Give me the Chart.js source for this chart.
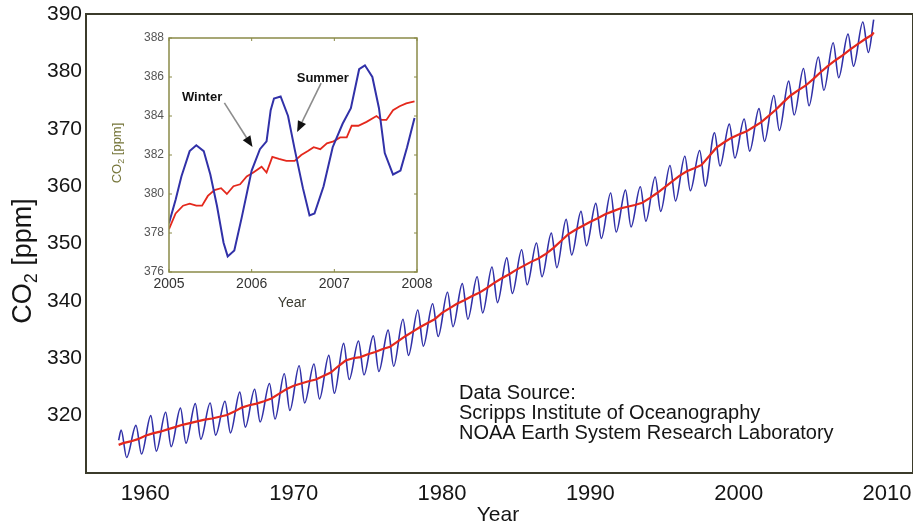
<!DOCTYPE html>
<html><head><meta charset="utf-8">
<script src="https://cdn.jsdelivr.net/npm/chart.js@4.4.1/dist/chart.umd.min.js"></script>
<style>
html,body{margin:0;padding:0;background:#fff;overflow:hidden}
#wrap{position:relative;width:913px;height:526px}
#main{position:absolute;left:0;top:0}
#inset{position:absolute;left:100px;top:20px}
</style></head><body>
<div id="wrap"><canvas id="main" width="913" height="526"></canvas><canvas id="inset" width="345" height="300"></canvas></div>
<script>
// ---------------- DATA (main chart) ----------------
const years = [1958,1959,1960,1961,1962,1963,1964,1965,1966,1967,1968,1969,1970,1971,1972,1973,1974,1975,1976,1977,1978,1979,1980,1981,1982,1983,1984,1985,1986,1987,1988,1989,1990,1991,1992,1993,1994,1995,1996,1997,1998,1999,2000,2001,2002,2003,2004,2005,2006,2007,2008];
const peaks = [317.5,318.3,320.0,320.6,321.3,322.1,322.2,322.5,324.1,324.6,325.6,327.3,328.7,329.0,330.5,332.6,333.0,333.9,334.9,336.8,338.4,339.5,341.5,343.0,344.2,345.9,347.5,348.9,350.1,351.8,354.2,355.6,357.0,358.8,359.3,359.9,361.6,363.6,365.2,366.2,369.3,370.8,371.7,373.5,375.8,378.3,380.5,382.5,385.0,386.5,388.6];
const troughs = [312.7,313.3,313.8,314.6,315.2,315.9,316.6,317.0,318.0,318.9,319.4,320.9,322.2,322.9,323.9,326.3,327.1,327.7,328.6,330.5,332.1,333.8,335.5,336.8,337.9,339.7,341.3,342.8,344.2,345.8,348.0,349.6,350.9,352.0,352.9,353.9,355.6,357.4,359.2,360.0,363.5,364.9,366.1,367.8,369.7,372.4,374.0,376.7,378.9,380.9,383.3];
const peakPhase = 0.37, troughPhase = 0.74;   // May maximum, early-October minimum
const blueStart = [1958.2, 315.7];
const blueEnd = [2009.1, 389.0];
const trendYears = [1958.2,1958.5,1959.0,1959.5,1960.0,1960.5,1961.0,1961.5,1962.0,1962.5,1963.0,1963.5,1964.0,1964.5,1965.0,1965.5,1966.0,1966.5,1967.0,1967.5,1968.0,1968.5,1969.0,1969.5,1970.0,1970.5,1971.0,1971.5,1972.0,1972.5,1973.0,1973.5,1974.0,1974.5,1975.0,1975.5,1976.0,1976.5,1977.0,1977.5,1978.0,1978.5,1979.0,1979.5,1980.0,1980.5,1981.0,1981.5,1982.0,1982.5,1983.0,1983.5,1984.0,1984.5,1985.0,1985.5,1986.0,1986.5,1987.0,1987.5,1988.0,1988.5,1989.0,1989.5,1990.0,1990.5,1991.0,1991.5,1992.0,1992.5,1993.0,1993.5,1994.0,1994.5,1995.0,1995.5,1996.0,1996.5,1997.0,1997.5,1998.0,1998.5,1999.0,1999.5,2000.0,2000.5,2001.0,2001.5,2002.0,2002.5,2003.0,2003.5,2004.0,2004.5,2005.0,2005.5,2006.0,2006.5,2007.0,2007.5,2008.0,2008.5,2009.0,2009.1];
const trendValues = [314.9,315.2,315.5,315.9,316.5,316.9,317.2,317.6,318.0,318.4,318.7,319.0,319.3,319.5,319.8,320.1,320.7,321.4,321.8,322.1,322.5,323.0,323.8,324.6,325.2,325.6,326.0,326.3,326.9,327.5,328.6,329.6,330.0,330.2,330.7,331.1,331.6,332.0,332.9,333.8,334.6,335.4,336.1,336.8,337.9,338.7,339.5,340.1,340.8,341.4,342.2,343.1,343.9,344.6,345.4,346.1,346.8,347.4,348.2,349.2,350.4,351.6,352.4,353.1,353.8,354.4,355.1,355.6,356.1,356.4,356.7,357.1,357.9,358.8,359.8,360.8,361.8,362.6,363.1,363.7,365.2,366.7,367.6,368.4,369.0,369.5,370.3,371.1,372.2,373.3,374.6,375.8,376.7,377.5,378.6,379.8,380.9,381.9,382.8,383.8,384.7,385.6,386.4,386.8];
const xTicks = [1960,1970,1980,1990,2000,2010];
const yTicks = [320,330,340,350,360,370,380,390];
const sourceLines = ["Data Source:","Scripps Institute of Oceanography","NOAA Earth System Research Laboratory"];

// ---------------- DATA (inset 2005-2008) ----------------
const insetBlueYears = [2005.0,2005.08,2005.15,2005.25,2005.33,2005.42,2005.5,2005.58,2005.66,2005.71,2005.79,2005.88,2006.0,2006.1,2006.18,2006.23,2006.27,2006.35,2006.44,2006.52,2006.62,2006.7,2006.76,2006.87,2006.98,2007.1,2007.2,2007.3,2007.37,2007.46,2007.54,2007.61,2007.71,2007.8,2007.88,2007.97];
const insetBlueValues = [378.5,379.7,380.9,382.2,382.5,382.2,381.0,379.4,377.5,376.8,377.1,378.8,381.2,382.3,382.7,384.3,384.9,385.0,384.0,382.3,380.3,378.9,379.0,380.4,382.4,383.6,384.4,386.4,386.6,386.0,384.4,382.1,381.0,381.2,382.4,383.9];
const insetRedYears = [2005.0,2005.08,2005.17,2005.25,2005.33,2005.4,2005.47,2005.55,2005.63,2005.7,2005.78,2005.86,2005.94,2006.02,2006.12,2006.18,2006.25,2006.33,2006.42,2006.52,2006.6,2006.68,2006.75,2006.83,2006.91,2006.99,2007.07,2007.15,2007.21,2007.29,2007.39,2007.51,2007.57,2007.63,2007.71,2007.79,2007.87,2007.97];
const insetRedValues = [378.2,379.0,379.4,379.5,379.4,379.4,379.9,380.2,380.3,380.0,380.4,380.5,380.9,381.1,381.4,381.1,381.9,381.8,381.7,381.7,382.0,382.2,382.4,382.3,382.6,382.7,382.9,382.9,383.5,383.5,383.7,384.0,383.8,383.8,384.3,384.5,384.65,384.75];
const insetXTicks = [2005,2006,2007,2008];
const insetYTicks = [376,378,380,382,384,386,388];
const annotations = [
  {text:"Winter", at:[2005.40,384.97], tail:[2005.67,384.67], tip:[2006.01,382.41]},
  {text:"Summer", at:[2006.86,385.95], tail:[2006.84,385.69], tip:[2006.55,383.18]}
];

// ---------------- build ----------------
const FONT = "'Liberation Sans', Arial, Helvetica, sans-serif";
Chart.defaults.font.family = FONT;

const bluePts = [{x:blueStart[0], y:blueStart[1]}];
years.forEach((yr,i)=>{ bluePts.push({x:yr+peakPhase, y:peaks[i]}); bluePts.push({x:yr+troughPhase, y:troughs[i]}); });
bluePts.push({x:blueEnd[0], y:blueEnd[1]});
const trendPts = trendYears.map((x,i)=>({x, y:trendValues[i]}));

function noPadX(s, h){ s.height = h; s.paddingLeft = 0; s.paddingRight = 0; }
function noPadY(s, w){ s.width = w; s.paddingTop = 0; s.paddingBottom = 0; }

const mainDeco = {
  id:'mainDeco',
  afterDraw(chart){
    const ctx = chart.ctx, a = chart.chartArea;
    ctx.save();
    ctx.strokeStyle = '#3b3b2b'; ctx.lineWidth = 2;
    ctx.strokeRect(a.left, a.top, a.right - a.left, a.bottom - a.top);
    ctx.fillStyle = '#151515';
    ctx.font = '21px ' + FONT; ctx.textAlign = 'center'; ctx.textBaseline = 'alphabetic';
    ctx.fillText('Year', 498, 521);
    ctx.save();
    ctx.translate(31, 261); ctx.rotate(-Math.PI/2);
    ctx.textAlign = 'left';
    const big = '27px ' + FONT, small = '18px ' + FONT;
    ctx.font = big; const w1 = ctx.measureText('CO').width; const w3 = ctx.measureText(' [ppm]').width;
    ctx.font = small; const w2 = ctx.measureText('2').width;
    let x0 = -(w1 + w2 + w3)/2;
    ctx.font = big; ctx.fillText('CO', x0, 0);
    ctx.font = small; ctx.fillText('2', x0 + w1, 6);
    ctx.font = big; ctx.fillText(' [ppm]', x0 + w1 + w2, 0);
    ctx.restore();
    ctx.font = '20px ' + FONT; ctx.textAlign = 'left';
    sourceLines.forEach((t,i)=> ctx.fillText(t, 459, 399 + i*20));
    ctx.restore();
  }
};

new Chart(document.getElementById('main'), {
  type:'line',
  data:{datasets:[
    {data:trendPts, borderColor:'#e4281c', borderWidth:2.2, pointRadius:0, tension:0, order:0},
    {data:bluePts, borderColor:'#3131a8', borderWidth:1.6, pointRadius:0, cubicInterpolationMode:'monotone', order:1}
  ]},
  options:{
    responsive:false, animation:false, events:[],
    layout:{padding:{top:14,left:0,right:0,bottom:0}},
    plugins:{legend:{display:false}, tooltip:{enabled:false}},
    scales:{
      x:{type:'linear', min:1956, max:2011.75,
         grid:{display:false, drawTicks:false}, border:{display:false},
         ticks:{color:'#151515', font:{size:22}, padding:8, maxRotation:0, autoSkip:false, callback:v=>String(v)},
         afterBuildTicks:s=>{ s.ticks = xTicks.map(v=>({value:v})); },
         afterFit:s=>noPadX(s, 53)},
      y:{type:'linear', min:310, max:390,
         grid:{display:false, drawTicks:false}, border:{display:false},
         ticks:{color:'#151515', font:{size:21}, padding:4, callback:v=>String(v)},
         afterBuildTicks:s=>{ s.ticks = yTicks.map(v=>({value:v})); },
         afterFit:s=>noPadY(s, 86)}
    }
  },
  plugins:[mainDeco]
});

const insetDeco = {
  id:'insetDeco',
  afterDraw(chart){
    const ctx = chart.ctx, a = chart.chartArea, xs = chart.scales.x, ys = chart.scales.y;
    ctx.save();
    ctx.strokeStyle = '#8a8a48'; ctx.lineWidth = 1.5;
    ctx.strokeRect(a.left, a.top, a.right - a.left, a.bottom - a.top);
    ctx.lineWidth = 1;
    insetXTicks.forEach(v=>{ const px = xs.getPixelForValue(v); ctx.beginPath(); ctx.moveTo(px, a.bottom); ctx.lineTo(px, a.bottom-3); ctx.moveTo(px, a.top); ctx.lineTo(px, a.top+3); ctx.stroke(); });
    insetYTicks.forEach(v=>{ const py = ys.getPixelForValue(v); ctx.beginPath(); ctx.moveTo(a.left, py); ctx.lineTo(a.left+3, py); ctx.moveTo(a.right, py); ctx.lineTo(a.right-3, py); ctx.stroke(); });
    ctx.fillStyle = '#3a3a30';
    ctx.font = '14px ' + FONT; ctx.textAlign = 'center'; ctx.textBaseline = 'alphabetic';
    ctx.fillText('Year', 192, 287);
    ctx.save();
    ctx.translate(21, 133); ctx.rotate(-Math.PI/2);
    ctx.fillStyle = '#76763a';
    const big = '13px ' + FONT, small = '9px ' + FONT;
    ctx.font = big; const w1 = ctx.measureText('CO').width, w3 = ctx.measureText(' [ppm]').width;
    ctx.font = small; const w2 = ctx.measureText('2').width;
    const x0 = -(w1+w2+w3)/2; ctx.textAlign = 'left';
    ctx.font = big; ctx.fillText('CO', x0, 0);
    ctx.font = small; ctx.fillText('2', x0+w1, 3);
    ctx.font = big; ctx.fillText(' [ppm]', x0+w1+w2, 0);
    ctx.restore();
    annotations.forEach(an=>{
      const tx = xs.getPixelForValue(an.tail[0]), ty = ys.getPixelForValue(an.tail[1]);
      const hx = xs.getPixelForValue(an.tip[0]), hy = ys.getPixelForValue(an.tip[1]);
      const ang = Math.atan2(hy-ty, hx-tx), L = 11, W = 4.5;
      const bx = hx - L*Math.cos(ang), by = hy - L*Math.sin(ang);
      ctx.strokeStyle = '#8c8c8c'; ctx.lineWidth = 1.6;
      ctx.beginPath(); ctx.moveTo(tx, ty); ctx.lineTo(bx, by); ctx.stroke();
      ctx.fillStyle = '#111';
      ctx.beginPath(); ctx.moveTo(hx, hy);
      ctx.lineTo(bx + W*Math.sin(ang), by - W*Math.cos(ang));
      ctx.lineTo(bx - W*Math.sin(ang), by + W*Math.cos(ang));
      ctx.closePath(); ctx.fill();
      ctx.font = 'bold 13px ' + FONT; ctx.textAlign = 'center'; ctx.textBaseline = 'middle';
      ctx.fillText(an.text, xs.getPixelForValue(an.at[0]), ys.getPixelForValue(an.at[1]));
    });
    ctx.restore();
  }
};

new Chart(document.getElementById('inset'), {
  type:'line',
  data:{datasets:[
    {data:insetRedYears.map((x,i)=>({x, y:insetRedValues[i]})), borderColor:'#e4281c', borderWidth:1.8, pointRadius:0, tension:0, order:1},
    {data:insetBlueYears.map((x,i)=>({x, y:insetBlueValues[i]})), borderColor:'#3131a8', borderWidth:2, pointRadius:0, tension:0, order:0}
  ]},
  options:{
    responsive:false, animation:false, events:[],
    layout:{padding:{top:18,left:0,right:28,bottom:0}},
    plugins:{legend:{display:false}, tooltip:{enabled:false}},
    scales:{
      x:{type:'linear', min:2005, max:2008,
         grid:{display:false, drawTicks:false}, border:{display:false},
         ticks:{color:'#333', font:{size:14}, padding:4, maxRotation:0, autoSkip:false, callback:v=>String(v)},
         afterBuildTicks:s=>{ s.ticks = insetXTicks.map(v=>({value:v})); },
         afterFit:s=>noPadX(s, 48)},
      y:{type:'linear', min:376, max:388,
         grid:{display:false, drawTicks:false}, border:{display:false},
         ticks:{color:'#555', font:{size:12}, padding:5, callback:v=>String(v)},
         afterBuildTicks:s=>{ s.ticks = insetYTicks.map(v=>({value:v})); },
         afterFit:s=>noPadY(s, 69)}
    }
  },
  plugins:[insetDeco]
});
</script>
</body></html>
